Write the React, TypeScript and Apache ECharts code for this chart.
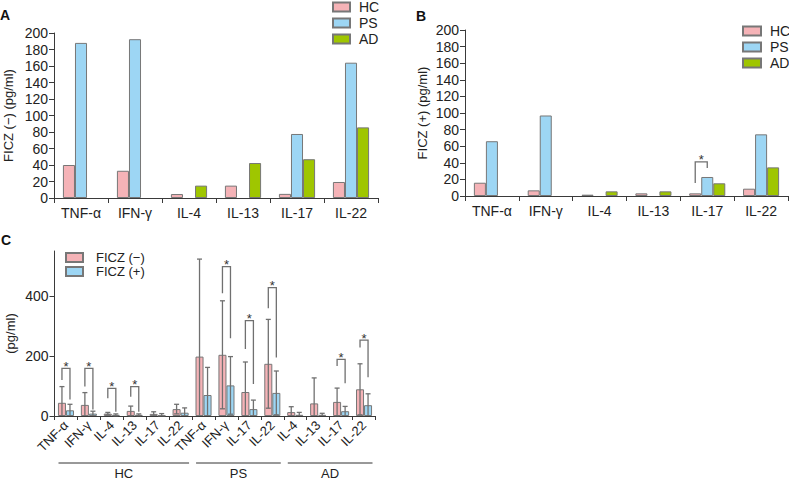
import React, { useEffect, useRef } from 'react';
import * as echarts from 'echarts';

// ---------- data ----------
const cytokinesAB = ['TNF-α', 'IFN-γ', 'IL-4', 'IL-13', 'IL-17', 'IL-22'];
const groupNames = ['HC', 'PS', 'AD'];

// Panel A: FICZ (−)
const aHC = [40, 33, 4.8, 15, 5, 19.4];
const aPS = [188, 192.5, null, null, 77.6, 164];
const aAD = [null, null, 15, 42.4, 47, 85.6];

// Panel B: FICZ (+)
const bHC = [16, 6.8, 1.6, 3.2, 3.2, 8.8];
const bPS = [66, 97, null, null, 22.9, 74.3];
const bAD = [null, null, 5.6, 5.6, 15.3, 34.5];
// [category index, bracket top, left leg end, right leg end]
const bBrackets = [[4, 41, 15.7, 33.7]];

// Panel C
const cCats = ['TNF-α', 'IFN-γ', 'IL-4', 'IL-13', 'IL-17', 'IL-22', 'TNF-α', 'IFN-γ', 'IL-17', 'IL-22', 'IL-4', 'IL-13', 'IL-17', 'IL-22'];
const cNegMean = [44, 37, 8, 17, 7, 23, 198, 204, 80, 174, 13, 42, 47, 89];
const cNegSD = [54, 41, 4, 16, 7, 16, 325, 180, 100, 148, 18, 85, 46, 85];
const cPosMean = [19, 8, 4, 4, 2, 11, 70, 102, 23, 77, 4, 4, 16, 36];
const cPosSD = [20, 8, 3, 3, 6, 16, 92, 96, 30, 73, 8, 5, 16, 38];
const cBrackets = [
  [0, 159, 120, 55], [1, 159, 98, 22], [2, 92, 59, 14], [3, 98, 64, 14],
  [7, 498, 409, 259], [8, 318, 223, 107], [9, 428, 359, 195],
  [12, 189, 167, 109], [13, 253, 228, 129],
];
// [first category index, last category index]
const cGroupSpans = [[0, 5], [6, 9], [10, 13]];
const cYTicks = [0, 200, 400];

// ---------- style ----------
const FONT = '"Liberation Sans", Arial, Helvetica, sans-serif';
const AXIS = '#3a3a3a';
const TXT = '#222';
const PINK = '#F5B3B7';
const BLUE = '#9DD6F4';
const GREEN = '#9FC600';
const BORDER = '#777';
const WHISK = '#707070';

function errorBar(offset: number) {
  return (params: any, api: any) => {
    const i = api.value(0);
    const m = api.value(1);
    const sd = api.value(2);
    const catW = api.size([1, 0])[0];
    const hi = m + sd;
    const lo = Math.max(0, m - sd);
    const pHi = api.coord([i, hi]);
    const pLo = api.coord([i, lo]);
    const x = pHi[0] + offset * catW;
    const cap = 2.5;
    const style = { stroke: WHISK, lineWidth: 1.3 };
    const children: any[] = [
      { type: 'line', shape: { x1: x, y1: pHi[1], x2: x, y2: pLo[1] }, style },
      { type: 'line', shape: { x1: x - cap, y1: pHi[1], x2: x + cap, y2: pHi[1] }, style },
    ];
    if (lo > 0) children.push({ type: 'line', shape: { x1: x - cap, y1: pLo[1], x2: x + cap, y2: pLo[1] }, style });
    return { type: 'group', children };
  };
}

function bracket(offL: number, offR: number) {
  return (params: any, api: any) => {
    const i = api.value(0);
    const top = api.value(1);
    const l = api.value(2);
    const r = api.value(3);
    const catW = api.size([1, 0])[0];
    const c = api.coord([i, top]);
    const xl = c[0] + offL * catW;
    const xr = c[0] + offR * catW;
    const yl = api.coord([i, l])[1];
    const yr = api.coord([i, r])[1];
    return {
      type: 'group',
      children: [
        {
          type: 'polyline',
          shape: { points: [[xl, yl], [xl, c[1]], [xr, c[1]], [xr, yr]] },
          style: { stroke: WHISK, lineWidth: 1.3, fill: 'none' },
        },
        {
          type: 'text',
          style: { text: '*', x: (xl + xr) / 2, y: c[1] - 2, align: 'center', verticalAlign: 'middle', fontSize: 13, fill: '#333', fontFamily: FONT },
        },
      ],
    };
  };
}

function groupLabels(params: any, api: any) {
  const s = api.value(0);
  const e = api.value(1);
  const catW = api.size([1, 0])[0];
  const p0 = api.coord([s, 0]);
  const p1 = api.coord([e, 0]);
  const x0 = p0[0] - catW / 2 + 4;
  const x1 = p1[0] + catW / 2 - 3;
  const y = p0[1] + 47;
  return {
    type: 'group',
    children: [
      { type: 'line', shape: { x1: x0, y1: y, x2: x1, y2: y }, style: { stroke: '#333', lineWidth: 1 } },
      {
        type: 'text',
        style: { text: groupNames[params.dataIndex], x: (x0 + x1) / 2, y: y + 10, align: 'center', verticalAlign: 'middle', fontSize: 13, lineHeight: 13, fill: TXT, fontFamily: FONT },
      },
    ],
  };
}

function catAxis(gridIndex: number, data: string[], extra: any = {}) {
  return {
    type: 'category',
    gridIndex,
    data,
    axisLine: { show: true, lineStyle: { color: AXIS, width: 1 } },
    axisTick: { show: true, length: 5, lineStyle: { color: AXIS } },
    axisLabel: { fontSize: 14, color: TXT, fontFamily: FONT, margin: 8, interval: 0 },
    splitLine: { show: false },
    ...extra,
  };
}

function valAxis(gridIndex: number, name: string, max: number, interval: number, nameGap: number, extra: any = {}) {
  return {
    type: 'value',
    gridIndex,
    min: 0,
    max,
    interval,
    name,
    nameLocation: 'middle',
    nameGap,
    nameTextStyle: { fontSize: 13, color: TXT, fontFamily: FONT },
    axisLine: { show: true, lineStyle: { color: AXIS, width: 1 } },
    axisTick: { show: true, length: 5, lineStyle: { color: AXIS } },
    axisLabel: { fontSize: 14, color: TXT, fontFamily: FONT, margin: 6 },
    splitLine: { show: false },
    ...extra,
  };
}

const barBase = { type: 'bar', barGap: '0%', barCategoryGap: '33%' };
const legendText = { fontSize: 14, color: TXT, fontFamily: FONT, lineHeight: 13, padding: [0, 0, 0, 4] };

export default function App() {
  const ref = useRef<HTMLDivElement>(null);
  useEffect(() => {
    if (!ref.current) return;
    const chart = echarts.init(ref.current, undefined, { renderer: 'svg' });
    const option: any = {
      animation: false,
      backgroundColor: '#fff',
      textStyle: { fontFamily: FONT },
      grid: [
        { left: 54, top: 33, width: 324, height: 165 },
        { left: 465, top: 30, width: 323, height: 166 },
        { left: 54.5, top: 251, width: 321, height: 165 },
      ],
      legend: [
        {
          data: ['HC', 'PS', 'AD'], orient: 'vertical', left: 332, top: 0, icon: 'rect', padding: 0,
          itemWidth: 17, itemHeight: 9, itemGap: 2, textStyle: legendText,
        },
        {
          data: ['HC', 'PS', 'AD'], orient: 'vertical', left: 742, top: 24, icon: 'rect', padding: 0,
          itemWidth: 18, itemHeight: 9, itemGap: 2, textStyle: legendText,
        },
        {
          data: ['FICZ (−)', 'FICZ (+)'], orient: 'vertical', left: 65, top: 251, icon: 'rect', padding: 0,
          itemWidth: 17, itemHeight: 9, itemGap: 1,
          textStyle: { fontSize: 13, color: TXT, fontFamily: FONT, lineHeight: 12, padding: [0, 0, 0, 8] },
        },
      ],
      graphic: [
        { type: 'text', left: 0, top: 8, style: { text: 'A', fontSize: 14, fontWeight: 'bold', fill: '#111', fontFamily: FONT } },
        { type: 'text', left: 416, top: 9, style: { text: 'B', fontSize: 14, fontWeight: 'bold', fill: '#111', fontFamily: FONT } },
        { type: 'text', left: 1, top: 233, style: { text: 'C', fontSize: 14, fontWeight: 'bold', fill: '#111', fontFamily: FONT } },
      ],
      xAxis: [
        catAxis(0, cytokinesAB),
        catAxis(1, cytokinesAB),
        catAxis(2, cCats, {
          axisLabel: { fontSize: 13, color: TXT, fontFamily: FONT, margin: 7, interval: 0, rotate: 45 },
          axisTick: { show: true, length: 4, lineStyle: { color: AXIS } },
        }),
      ],
      yAxis: [
        valAxis(0, 'FICZ (−) (pg/ml)', 200, 20, 39),
        valAxis(1, 'FICZ (+) (pg/ml)', 200, 20, 36),
        valAxis(2, '(pg/ml)', 550, 200, 38, {
          axisLabel: { fontSize: 14, color: TXT, fontFamily: FONT, margin: 6, customValues: cYTicks },
          axisTick: { show: true, length: 5, lineStyle: { color: AXIS }, customValues: cYTicks },
        }),
      ],
      series: [
        { ...barBase, name: 'HC', xAxisIndex: 0, yAxisIndex: 0, data: aHC, itemStyle: { color: PINK, borderColor: BORDER, borderWidth: 1 } },
        { ...barBase, name: 'PS', xAxisIndex: 0, yAxisIndex: 0, data: aPS, itemStyle: { color: BLUE, borderColor: BORDER, borderWidth: 1 } },
        { ...barBase, name: 'AD', xAxisIndex: 0, yAxisIndex: 0, data: aAD, itemStyle: { color: GREEN, borderColor: BORDER, borderWidth: 1 } },
        { ...barBase, name: 'HC', xAxisIndex: 1, yAxisIndex: 1, data: bHC, itemStyle: { color: PINK, borderColor: BORDER, borderWidth: 1 } },
        { ...barBase, name: 'PS', xAxisIndex: 1, yAxisIndex: 1, data: bPS, itemStyle: { color: BLUE, borderColor: BORDER, borderWidth: 1 } },
        { ...barBase, name: 'AD', xAxisIndex: 1, yAxisIndex: 1, data: bAD, itemStyle: { color: GREEN, borderColor: BORDER, borderWidth: 1 } },
        {
          type: 'custom', name: 'bBracket', xAxisIndex: 1, yAxisIndex: 1, z: 5, silent: true,
          renderItem: bracket(-0.67 / 3, 0), data: bBrackets,
        },
        { type: 'bar', name: 'FICZ (−)', xAxisIndex: 2, yAxisIndex: 2, barGap: '0%', barCategoryGap: '30%', data: cNegMean, itemStyle: { color: PINK, borderColor: BORDER, borderWidth: 1 } },
        { type: 'bar', name: 'FICZ (+)', xAxisIndex: 2, yAxisIndex: 2, barGap: '0%', barCategoryGap: '30%', data: cPosMean, itemStyle: { color: BLUE, borderColor: BORDER, borderWidth: 1 } },
        {
          type: 'custom', name: 'negErr', xAxisIndex: 2, yAxisIndex: 2, z: 5, silent: true,
          renderItem: errorBar(-0.175), data: cCats.map((_, i) => [i, cNegMean[i], cNegSD[i]]),
        },
        {
          type: 'custom', name: 'posErr', xAxisIndex: 2, yAxisIndex: 2, z: 5, silent: true,
          renderItem: errorBar(0.175), data: cCats.map((_, i) => [i, cPosMean[i], cPosSD[i]]),
        },
        {
          type: 'custom', name: 'cBracket', xAxisIndex: 2, yAxisIndex: 2, z: 5, silent: true,
          renderItem: bracket(-0.175, 0.175), data: cBrackets,
        },
        {
          type: 'custom', name: 'groups', xAxisIndex: 2, yAxisIndex: 2, z: 5, silent: true, clip: false,
          renderItem: groupLabels, data: cGroupSpans,
        },
      ],
    };
    chart.setOption(option);
    return () => chart.dispose();
  }, []);
  return <div ref={ref} style={{ position: 'absolute', left: 0, top: 0, width: 789, height: 480 }} />;
}
